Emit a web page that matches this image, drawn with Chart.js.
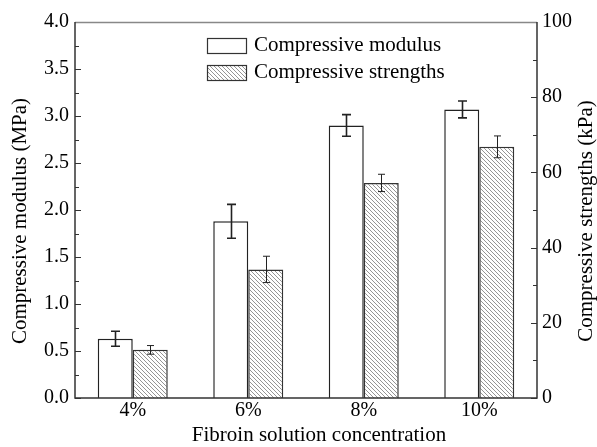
<!DOCTYPE html>
<html>
<head>
<meta charset="utf-8">
<script src="https://cdn.jsdelivr.net/npm/chart.js@4.4.1/dist/chart.umd.min.js"></script>
<style>
html,body{margin:0;padding:0;background:#fff;}
canvas{display:block;}
</style>
</head>
<body>
<canvas id="c" width="597" height="447"></canvas>
<script>
const categories = ['4%', '6%', '8%', '10%'];
const modulus = [0.63, 1.88, 2.90, 3.07];
const modulusErr = [0.08, 0.18, 0.115, 0.09];
const strength = [12.8, 34.2, 57.2, 66.8];
const strengthErr = [1.15, 3.5, 2.3, 2.9];
const seriesNames = ['Compressive modulus', 'Compressive strengths'];
const xTitle = 'Fibroin solution concentration';
const yLeftTitle = 'Compressive modulus (MPa)';
const yRightTitle = 'Compressive strengths (kPa)';

const FONT = "'Liberation Serif', 'Times New Roman', serif";

function makeHatch() {
  const s = 4;
  const p = document.createElement('canvas');
  p.width = s; p.height = s;
  const g = p.getContext('2d');
  g.fillStyle = '#fff';
  g.fillRect(0, 0, s, s);
  g.strokeStyle = '#7a7a7a';
  g.lineWidth = 0.8;
  g.beginPath();
  g.moveTo(-1, -1); g.lineTo(s + 1, s + 1);
  g.moveTo(-1, s - 1); g.lineTo(1, s + 1);
  g.moveTo(s - 1, -1); g.lineTo(s + 1, 1);
  g.stroke();
  return document.getElementById('c').getContext('2d').createPattern(p, 'repeat');
}
const hatch = makeHatch();

const decorPlugin = {
  id: 'decor',
  beforeDatasetsDraw(chart) {
    const {ctx, chartArea: a} = chart;
    ctx.save();
    // inward ticks
    const yl = chart.scales.y, yr = chart.scales.y1;
    ctx.strokeStyle = '#333';
    ctx.lineWidth = 1.2;
    ctx.beginPath();
    for (let v = 0; v <= 4.0001; v += 0.25) {
      const py = Math.round(yl.getPixelForValue(v)) + 0.5;
      const len = (Math.round(v * 4) % 2 === 0) ? 6 : 4;
      ctx.moveTo(a.left, py); ctx.lineTo(a.left + len, py);
    }
    for (let v = 0; v <= 100.001; v += 10) {
      const py = Math.round(yr.getPixelForValue(v)) + 0.5;
      const len = (Math.round(v / 10) % 2 === 0) ? 6 : 4;
      ctx.moveTo(a.right, py); ctx.lineTo(a.right - len, py);
    }
    ctx.stroke();
    ctx.restore();
  },
  afterDatasetsDraw(chart) {
    const {ctx, chartArea: a} = chart;
    ctx.save();
    // error bars
    const errs = [
      {ds: 0, vals: modulus, err: modulusErr, scale: chart.scales.y, lw: 1.6, cap: 4.5},
      {ds: 1, vals: strength, err: strengthErr, scale: chart.scales.y1, lw: 1.0, cap: 3.5}
    ];
    ctx.strokeStyle = '#222';
    errs.forEach(e => {
      const meta = chart.getDatasetMeta(e.ds);
      ctx.lineWidth = e.lw;
      meta.data.forEach((bar, i) => {
        const x = Math.round(bar.x) + 0.5;
        const y1 = e.scale.getPixelForValue(e.vals[i] + e.err[i]);
        const y2 = e.scale.getPixelForValue(e.vals[i] - e.err[i]);
        ctx.beginPath();
        ctx.moveTo(x, y1); ctx.lineTo(x, y2);
        ctx.moveTo(x - e.cap, y1); ctx.lineTo(x + e.cap, y1);
        ctx.moveTo(x - e.cap, y2); ctx.lineTo(x + e.cap, y2);
        ctx.stroke();
      });
    });
    // frame
    ctx.lineWidth = 1.5;
    ctx.strokeStyle = '#888';
    ctx.beginPath();
    ctx.moveTo(a.left, a.top + 0.5); ctx.lineTo(a.right, a.top + 0.5);
    ctx.stroke();
    ctx.strokeStyle = '#333';
    ctx.beginPath();
    ctx.moveTo(a.left, a.top); ctx.lineTo(a.left, a.bottom);
    ctx.lineTo(a.right, a.bottom); ctx.lineTo(a.right, a.top);
    ctx.stroke();

    // legend
    const lx = a.left + 132, lw = 39, lh = 15;
    const rows = [{y: a.top + 16, fill: '#fff'}, {y: a.top + 43, fill: hatch}];
    ctx.font = '21px ' + FONT;
    ctx.textBaseline = 'middle';
    ctx.textAlign = 'left';
    rows.forEach((r, i) => {
      ctx.fillStyle = r.fill;
      ctx.fillRect(lx, r.y, lw, lh);
      ctx.lineWidth = 1.2;
      ctx.strokeStyle = '#333';
      ctx.strokeRect(lx + 0.5, r.y + 0.5, lw, lh);
      ctx.fillStyle = '#000';
      ctx.fillText(seriesNames[i], lx + lw + 8, r.y + lh / 2);
    });

    // axis titles
    ctx.font = '21px ' + FONT;
    ctx.fillStyle = '#000';
    ctx.textAlign = 'center';
    ctx.textBaseline = 'middle';
    ctx.fillText(xTitle, 319, 435);
    ctx.save();
    ctx.translate(20, 221);
    ctx.rotate(-Math.PI / 2);
    ctx.fillText(yLeftTitle, 0, 0);
    ctx.restore();
    ctx.save();
    ctx.translate(586, 221);
    ctx.rotate(-Math.PI / 2);
    ctx.fillText(yRightTitle, 0, 0);
    ctx.restore();
    ctx.restore();
  }
};

new Chart(document.getElementById('c'), {
  type: 'bar',
  data: {
    labels: categories,
    datasets: [
      {label: seriesNames[0], data: modulus, yAxisID: 'y', backgroundColor: '#fff', borderColor: '#222', borderWidth: 1.5},
      {label: seriesNames[1], data: strength, yAxisID: 'y1', backgroundColor: hatch, borderColor: '#333', borderWidth: 1.5}
    ]
  },
  options: {
    responsive: false,
    animation: false,
    devicePixelRatio: 1,
    layout: {padding: {top: 22, left: 0, right: 0, bottom: 0}},
    datasets: {bar: {categoryPercentage: 0.606, barPercentage: 1.0}},
    plugins: {legend: {display: false}, tooltip: {enabled: false}},
    scales: {
      x: {
        grid: {display: false, drawTicks: false},
        border: {display: false},
        ticks: {color: '#000', padding: 3, font: {family: FONT, size: 20, lineHeight: 1}},
        afterFit(s) { s.height = 49; }
      },
      y: {
        position: 'left',
        min: 0, max: 4, 
        grid: {display: false, drawTicks: false},
        border: {display: false},
        ticks: {stepSize: 0.5, color: '#000', padding: 6, font: {family: FONT, size: 20},
          callback: v => Number(v).toFixed(1)},
        afterFit(s) { s.width = 75; }
      },
      y1: {
        position: 'right',
        min: 0, max: 100,
        grid: {display: false, drawTicks: false},
        border: {display: false},
        ticks: {stepSize: 20, color: '#000', padding: 5, font: {family: FONT, size: 20}},
        afterFit(s) { s.width = 60; }
      }
    }
  },
  plugins: [decorPlugin]
});
</script>
</body>
</html>
